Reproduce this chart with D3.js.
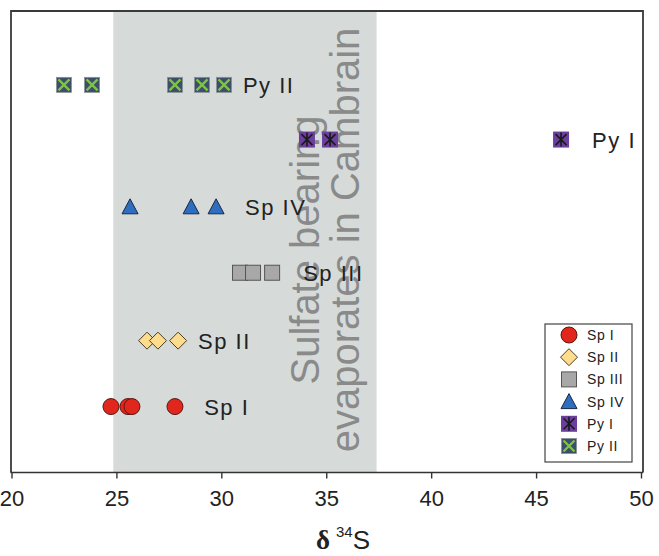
<!DOCTYPE html>
<html>
<head>
<meta charset="utf-8">
<script src="https://cdn.jsdelivr.net/npm/d3@7"></script>
<style>
  body { margin: 0; background: #fff; }
  svg { display: block; font-family: "Liberation Sans", Arial, sans-serif; }
</style>
</head>
<body>
<div id="chart"></div>
<script>
// δ34S values per group
const categories = ["Sp I", "Sp II", "Sp III", "Sp IV", "Py I", "Py II"];
const rowLevel = [1, 2, 3.03, 4.03, 5.05, 5.88];
const spI = [24.74, 25.55, 25.74, 27.79];
const spII = [26.46, 26.98, 27.94];
const spIII = [30.89, 31.51, 32.42];
const spIV = [25.65, 28.56, 29.75];
const pyI = [34.08, 35.18, 46.19];
const pyII = [22.50, 23.84, 27.79, 29.08, 30.13];
const labelAt = [29.18, 28.89, 33.9, 31.13, 47.67, 31.03];
const xTicks = [20, 25, 30, 35, 40, 45, 50];
const bandRange = [24.85, 37.4];
const bandText = ["Sulfate bearing", "evaporates in Cambrain"];

const seriesValues = [spI, spII, spIII, spIV, pyI, pyII];
const markerType = ["circle", "diamond", "square", "triangle", "pyI", "pyII"];

const width = 659, height = 556;
const svg = d3.select("#chart").append("svg")
    .attr("width", width)
    .attr("height", height);

const x = d3.scaleLinear().domain([20, 50]).range([11.5, 641]);
const y = d3.scaleLinear().domain([0, 7]).range([472.5, 11]);

// grey band
svg.append("rect")
    .attr("x", x(bandRange[0]))
    .attr("y", y(7))
    .attr("width", x(bandRange[1]) - x(bandRange[0]))
    .attr("height", y(0) - y(7))
    .attr("fill", "#d6dbd9");

// rotated band text
const bandG = svg.append("g")
    .attr("fill", "#8a8a8a")
    .style("font-size", "40px");
bandG.append("text")
    .attr("transform", "translate(319,250) rotate(-90)")
    .attr("text-anchor", "middle")
    .text(bandText[0]);
bandG.append("text")
    .attr("transform", "translate(359,240) rotate(-90)")
    .attr("text-anchor", "middle")
    .text(bandText[1]);

// marker drawing
function drawMarker(g, type) {
    if (type === "circle") {
        g.append("circle").attr("r", 8)
            .attr("fill", "#e0261d").attr("stroke", "#5a1812").attr("stroke-width", 1);
    } else if (type === "diamond") {
        g.append("path").attr("d", "M0,-8.5L8.5,0L0,8.5L-8.5,0Z")
            .attr("fill", "#fedc8e").attr("stroke", "#4a3d22").attr("stroke-width", 1);
    } else if (type === "square") {
        g.append("rect").attr("x", -7.5).attr("y", -7.5).attr("width", 15).attr("height", 15)
            .attr("fill", "#a8a8a8").attr("stroke", "#555").attr("stroke-width", 1);
    } else if (type === "triangle") {
        g.append("path").attr("d", "M0,-8L8,7L-8,7Z")
            .attr("fill", "#2f6dc0").attr("stroke", "#1a2840").attr("stroke-width", 1);
    } else if (type === "pyI") {
        g.append("rect").attr("x", -8).attr("y", -8).attr("width", 16).attr("height", 16)
            .attr("fill", "#6c3f9e");
        g.append("path").attr("d", "M-5.5,-5.5L5.5,5.5M5.5,-5.5L-5.5,5.5M0,-7L0,7")
            .attr("stroke", "#1a1a1a").attr("stroke-width", 1.6).attr("fill", "none");
    } else if (type === "pyII") {
        g.append("rect").attr("x", -7.5).attr("y", -7.5).attr("width", 15).attr("height", 15)
            .attr("fill", "#3d4d6a").attr("stroke", "#8a8f96").attr("stroke-width", 0.8);
        g.append("path").attr("d", "M-5.5,-5.5L5.5,5.5M5.5,-5.5L-5.5,5.5")
            .attr("stroke", "#7cc544").attr("stroke-width", 2.4).attr("fill", "none");
    }
}

// points
seriesValues.forEach((vals, i) => {
    vals.forEach(v => {
        const g = svg.append("g")
            .attr("transform", `translate(${x(v)},${y(rowLevel[i])})`);
        drawMarker(g, markerType[i]);
    });
    svg.append("text")
        .attr("x", x(labelAt[i]))
        .attr("y", y(rowLevel[i]) + 8)
        .style("font-size", "22px")
        .style("letter-spacing", "1.5px")
        .attr("fill", "#222")
        .text(categories[i]);
});

// frame
svg.append("path")
    .attr("d", `M${x(20) - 0.5},${y(0)}L${x(20) - 0.5},${y(7)}L643,${y(7)}L643,${y(0)}`)
    .attr("fill", "none")
    .attr("stroke", "#3a3a3a")
    .attr("stroke-width", 1.8);

// x axis
const xAxis = d3.axisBottom(x).tickValues(xTicks).tickSize(6).tickPadding(12).tickSizeOuter(0);
const axG = svg.append("g")
    .attr("transform", `translate(0,${y(0)})`)
    .call(xAxis);
axG.select(".domain").attr("stroke", "#333").attr("stroke-width", 1.6)
    .attr("d", `M${x(20) - 1},0H643`);
axG.selectAll(".tick line").attr("stroke", "#333").attr("stroke-width", 1.4);
axG.selectAll(".tick text")
    .style("font-size", "22px")
    .style("font-family", "Liberation Sans, Arial, sans-serif")
    .attr("fill", "#222");

// axis title δ34S
const title = svg.append("text")
    .attr("x", 343)
    .attr("y", 549)
    .attr("text-anchor", "middle")
    .attr("fill", "#222");
title.append("tspan")
    .style("font-family", "Liberation Serif, serif")
    .style("font-weight", "bold")
    .style("font-size", "27px")
    .text("δ");
title.append("tspan")
    .attr("dx", 6)
    .attr("dy", -12)
    .style("font-size", "15px")
    .text("34");
title.append("tspan")
    .attr("dy", 12)
    .style("font-size", "26px")
    .text("S");

// legend
const legend = svg.append("g").attr("transform", "translate(545,324)");
legend.append("rect")
    .attr("width", 87).attr("height", 138)
    .attr("fill", "#fff").attr("stroke", "#444").attr("stroke-width", 1.2);
categories.forEach((c, i) => {
    const g = legend.append("g").attr("transform", `translate(24,${11 + i * 22.2})`);
    drawMarker(g, markerType[i]);
    legend.append("text")
        .attr("x", 42)
        .attr("y", 11 + i * 22.2 + 5)
        .style("font-size", "14px")
        .style("letter-spacing", "0.6px")
        .attr("fill", "#222")
        .text(c);
});
</script>
</body>
</html>
